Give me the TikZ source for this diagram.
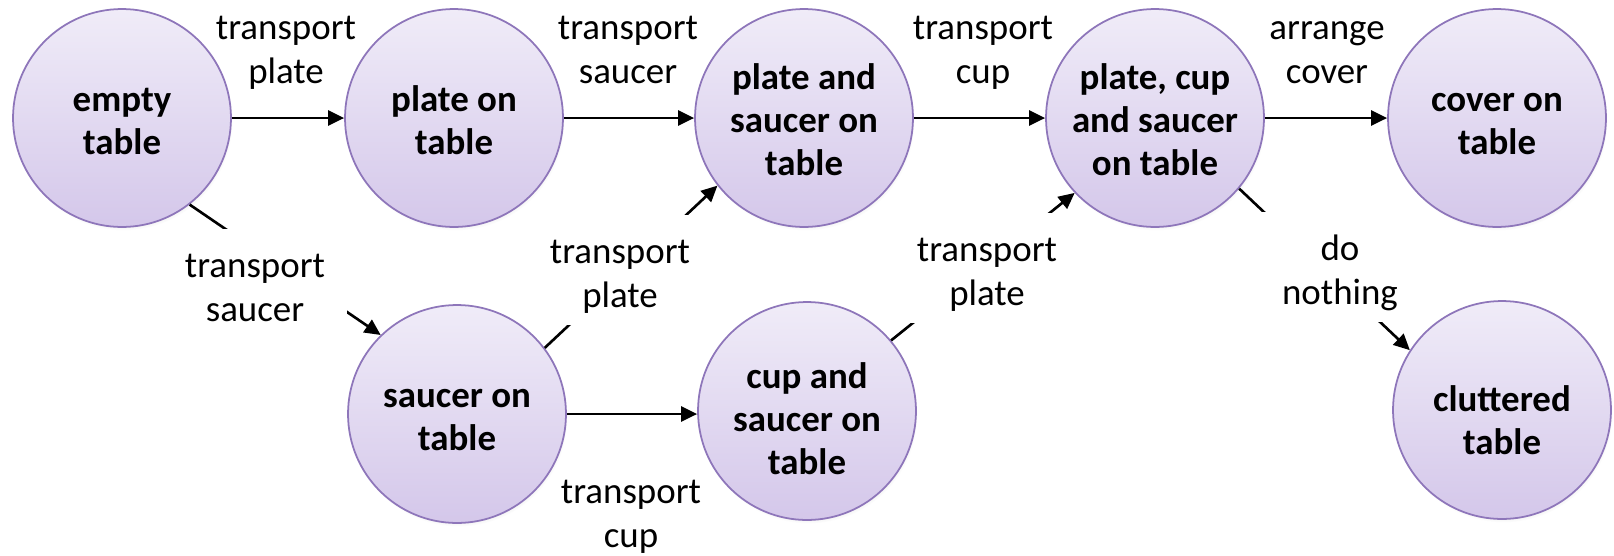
\documentclass[tikz,border=0pt]{standalone}
\usepackage{fontspec}
\setmainfont{Carlito}
\usepackage{xcolor}
\definecolor{cEdge}{HTML}{8E76BA}
\definecolor{cTop}{HTML}{F0ECF8}
\definecolor{cBot}{HTML}{D4C7EA}
\usepackage{tikz}
\usetikzlibrary{arrows.meta,shadows}
\tikzset{
  node-state/.style={circle,draw=cEdge,line width=1pt,minimum size=4.36cm,
    inner sep=0pt,top color=cTop,bottom color=cBot,align=center,
    font=\bfseries\fontsize{21}{24.6}\selectfont,
    text height=1.48cm,text depth=0cm,
    circular drop shadow={shadow xshift=0.03cm,shadow yshift=-0.07cm,
      shadow scale=1,opacity=0.3}},
  % three lines of text
  node-state3/.style={node-state,text height=2.3cm},
  edge-label/.style={align=center,anchor=base,inner sep=0pt,
    font=\fontsize{21}{24.6}\selectfont},
  edge-label-box/.style={edge-label,fill=white,minimum width=3.7cm,
    text height=1.84cm,text depth=0.36cm},
  arrow/.style={-{Triangle[length=0.32cm,width=0.3cm]},line width=1.5pt},
}

\begin{document}
\begin{tikzpicture}[x=0.02cm,y=-0.02cm]
  \useasboundingbox (0,0) rectangle (1614,555);
  % states
  \node[node-state] (empty) at (122,118) {empty\\table};
  \node[node-state] (plate) at (454,118) {plate on\\table};
  \node[node-state3] (platesaucer) at (804,118) {plate and\\saucer on\\table};
  \node[node-state3] (full) at (1155,118) {plate, cup\\and saucer\\on table};
  \node[node-state] (cover) at (1497,118) {cover on\\table};
  \node[node-state] (saucer) at (457,414) {saucer on\\table};
  \node[node-state3,text height=2.54cm] (cupsaucer) at (807,411) {cup and\\saucer on\\table};
  \node[node-state,text height=1.8cm] (clutter) at (1502,410) {cluttered\\table};
  % transitions
  \draw[arrow] (empty) -- (plate);
  \draw[arrow] (plate) -- (platesaucer);
  \draw[arrow] (platesaucer) -- (full);
  \draw[arrow] (full) -- (cover);
  \draw[arrow] (saucer.east) -- (saucer.east -| cupsaucer.west);
  \draw[arrow] (empty.-52) -- (saucer.134);
  \draw[arrow] (saucer.37) -- (platesaucer.218);
  \draw[arrow] (cupsaucer.40) -- (full.223);
  \draw[arrow] (full.-40) -- (clutter.147);
  % actions (placed by the baseline of their last line)
  \node[edge-label] (l-plate) at (286,83) {transport\\plate};
  \node[edge-label] (l-saucer) at (628,83) {transport\\saucer};
  \node[edge-label] (l-cup) at (983,83) {transport\\cup};
  \node[edge-label] (l-cover) at (1327,83) {arrange\\cover};
  \node[edge-label-box] (l-saucer2) at (255,321) {transport\\saucer};
  \node[edge-label-box] (l-plate2) at (620,307) {transport\\plate};
  \node[edge-label-box] (l-plate3) at (987,305) {transport\\plate};
  \node[edge-label-box] (l-nothing) at (1340,304) {do\\nothing};
  \node[edge-label] (l-cup2) at (631,547) {transport\\cup};
\end{tikzpicture}
\end{document}
